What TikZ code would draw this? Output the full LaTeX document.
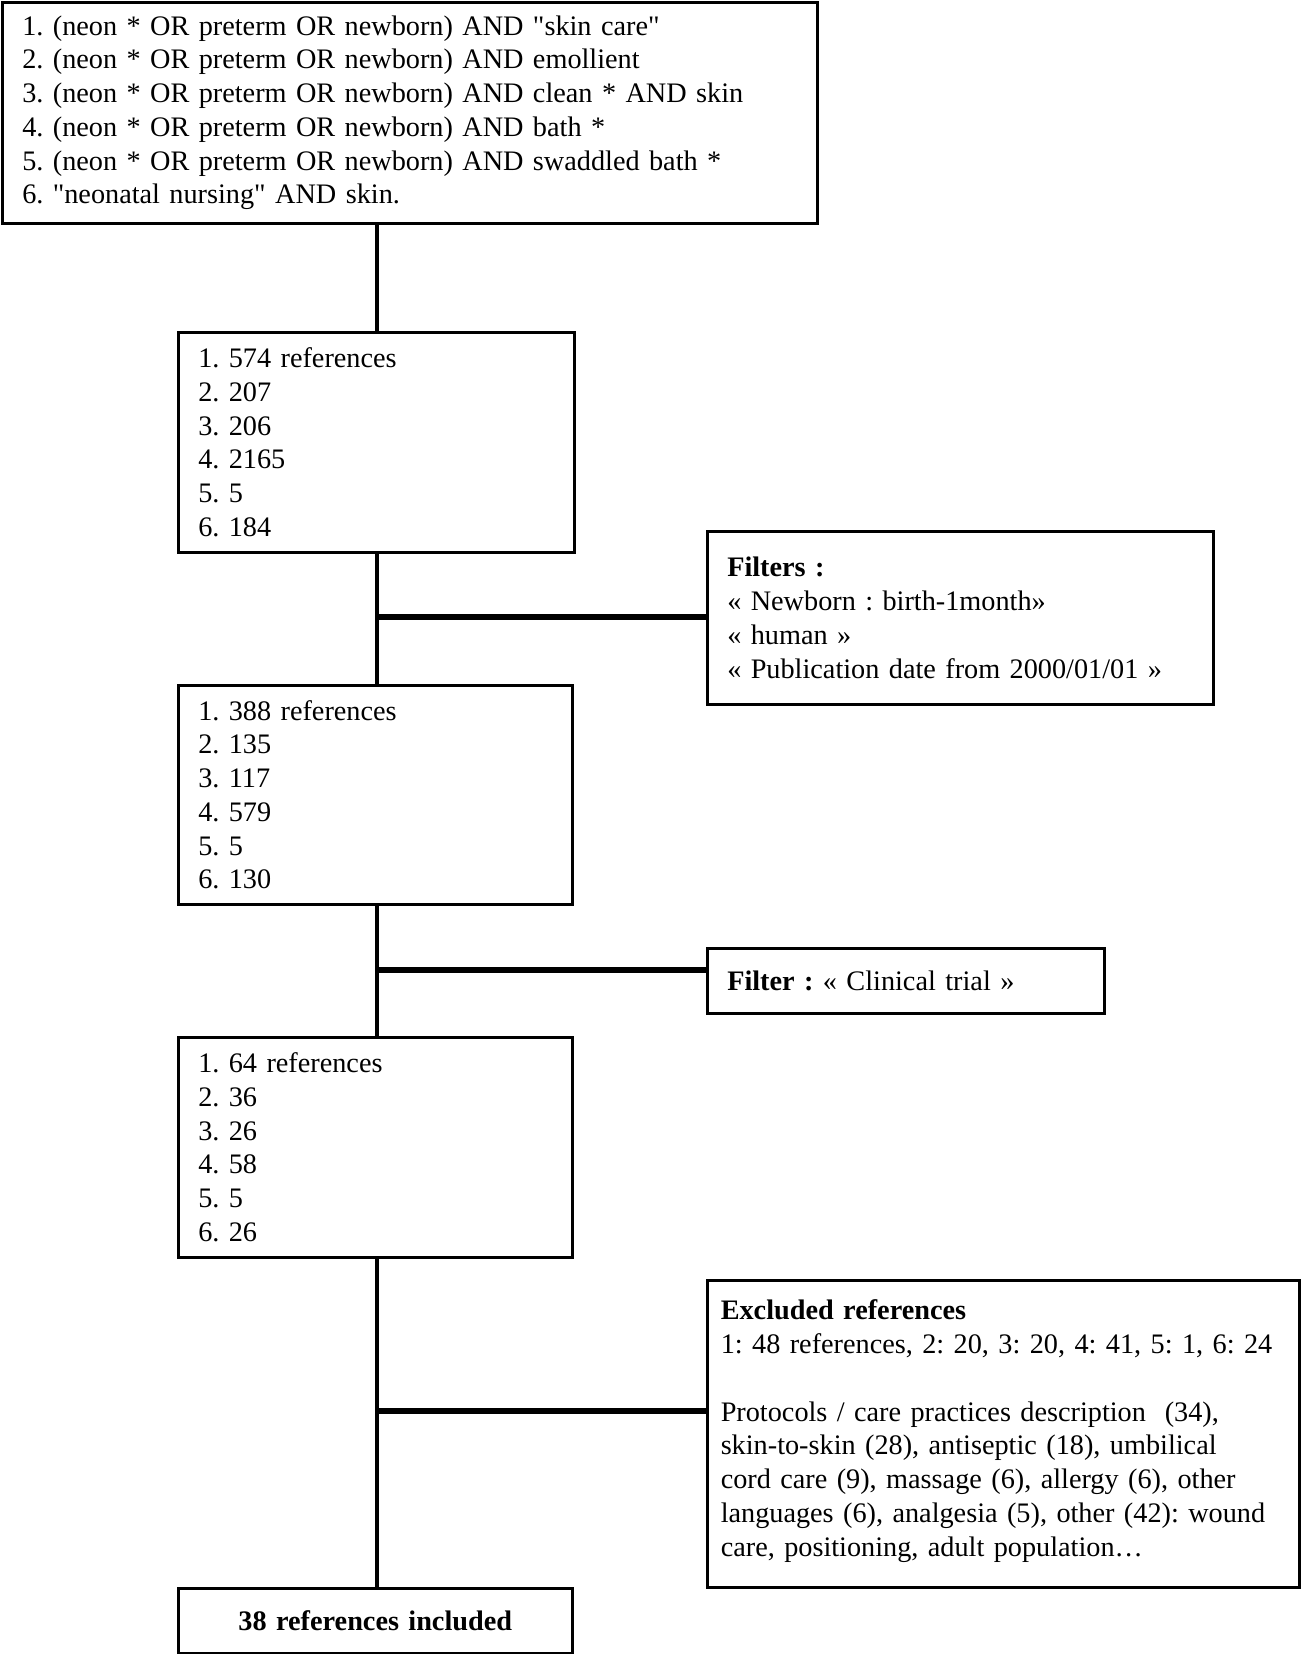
\documentclass[tikz,border=0pt]{standalone}
\usepackage{fontspec}
\setmainfont{Liberation Serif}[Ligatures=TeXOff]
\frenchspacing
\begin{document}
\begin{tikzpicture}[x=0.4pt,y=-0.4pt,
  box/.style={draw, line width=1pt, anchor=north west, inner xsep=8pt, inner ysep=0pt,
    align=left, font=\fontsize{11.3}{13.5}\selectfont\frenchspacing},
  conn/.style={line width=1.8pt},
  hconn/.style={line width=2.2pt}]
\useasboundingbox (0,0) rectangle (1302,1654);
\node[box, text width=310pt, minimum height=88.4pt] (top) at (1,1) {%
1. (neon * OR preterm OR newborn) AND "skin care"\\
2. (neon * OR preterm OR newborn) AND emollient\\
3. (neon * OR preterm OR newborn) AND clean * AND skin\\
4. (neon * OR preterm OR newborn) AND bath *\\
5. (neon * OR preterm OR newborn) AND swaddled bath *\\
6. "neonatal nursing" AND skin.};
\node[box, text width=142.4pt, minimum height=88pt] (b2) at (177,331) {%
1. 574 references\\ 2. 207\\ 3. 206\\ 4. 2165\\ 5. 5\\ 6. 184};
\node[box, text width=186.4pt, minimum height=69.2pt] (filt) at (706,530) {%
\textbf{Filters :}\\
« Newborn : birth-1month»\\
« human »\\
« Publication date from 2000/01/01 »};
\node[box, text width=141.6pt, minimum height=87.6pt] (b3) at (177,684) {%
1. 388 references\\ 2. 135\\ 3. 117\\ 4. 579\\ 5. 5\\ 6. 130};
\node[box, text width=142.8pt, minimum height=26pt] (filt2) at (706,947) {%
\textbf{Filter :} « Clinical trial »};
\node[box, text width=226pt, inner xsep=5.4pt, minimum height=122.8pt] (excl) at (706,1279) {%
\textbf{Excluded references}\\
1: 48 references, 2: 20, 3: 20, 4: 41, 5: 1, 6: 24\\
~\\
Protocols / care practices description\ \ (34),\\
skin-to-skin (28), antiseptic (18), umbilical\\
cord care (9), massage (6), allergy (6), other\\
languages (6), analgesia (5), other (42): wound\\
care, positioning, adult population…\\[-9pt]\mbox{}};
\node[box, text width=141.6pt, minimum height=88pt] (b4) at (177,1036) {%
1. 64 references\\ 2. 36\\ 3. 26\\ 4. 58\\ 5. 5\\ 6. 26};
\node[box, text width=141.6pt, minimum height=26pt, align=center] (fin) at (177,1587) {%
\textbf{38 references included}};
\coordinate (spine) at (377,0);
\coordinate (j1) at (377,617);
\coordinate (j2) at (377,970);
\coordinate (j3) at (377,1411);
\draw[conn] (spine |- top.south) -- (spine |- b2.north);
\draw[conn] (spine |- b2.south) -- (spine |- b3.north);
\draw[conn] (spine |- b3.south) -- (spine |- b4.north);
\draw[conn] (spine |- b4.south) -- (spine |- fin.north);
\draw[hconn] (j1) -- (filt.west |- j1);
\draw[hconn] (j2) -- (filt2.west |- j2);
\draw[hconn] (j3) -- (excl.west |- j3);
\end{tikzpicture}
\end{document}
